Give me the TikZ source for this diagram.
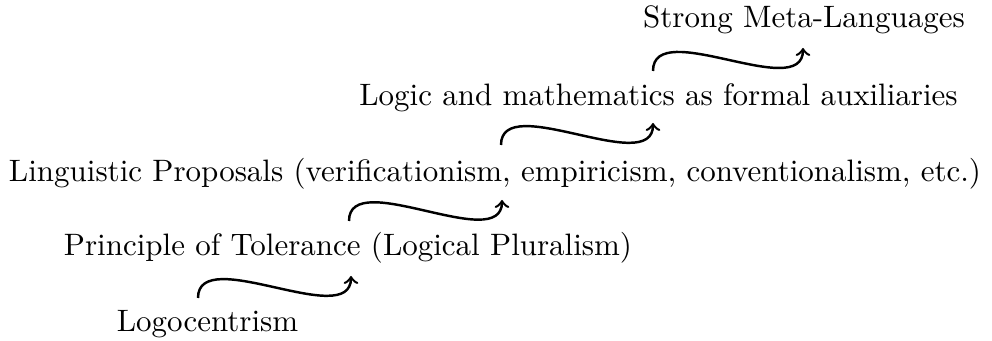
\documentclass[tikz,border=0pt]{standalone}
\usetikzlibrary{calc}
\begin{document}
\begin{tikzpicture}[x=0.326pt,y=-0.326pt,
  lbl/.style={anchor=base,inner sep=0pt,font=\fontsize{10.1}{12}\selectfont},
  flow/.style={->,thick}]
\useasboundingbox (0,0) rectangle (992,341);
\node[lbl] (s)  at (804,28)    {Strong Meta-Languages};
\node[lbl] (lg) at (658.5,106) {Logic and mathematics as formal auxiliaries};
\node[lbl] (li) at (495,182) {Linguistic Proposals (verificationism, empiricism, conventionalism, etc.)};
\node[lbl] (p)  at (348,256) {Principle of Tolerance (Logical Pluralism)};
\node[lbl] (o)  at (207.5,332) {Logocentrism};
\draw[flow] ($(o.base)+(-9.5,-34)$) .. controls +(0,-55) and +(0,55) .. ($(p.base)+(3,20)$);
\draw[flow] ($(p.base)+(1,-35)$) .. controls +(0,-55) and +(0,55) .. ($(li.base)+(7,18)$);
\draw[flow] ($(li.base)+(6,-37)$) .. controls +(0,-55) and +(0,55) .. ($(lg.base)+(-5.5,17)$);
\draw[flow] ($(lg.base)+(-5.5,-35)$) .. controls +(0,-55) and +(0,55) .. ($(s.base)+(-1,20)$);
\end{tikzpicture}
\end{document}
